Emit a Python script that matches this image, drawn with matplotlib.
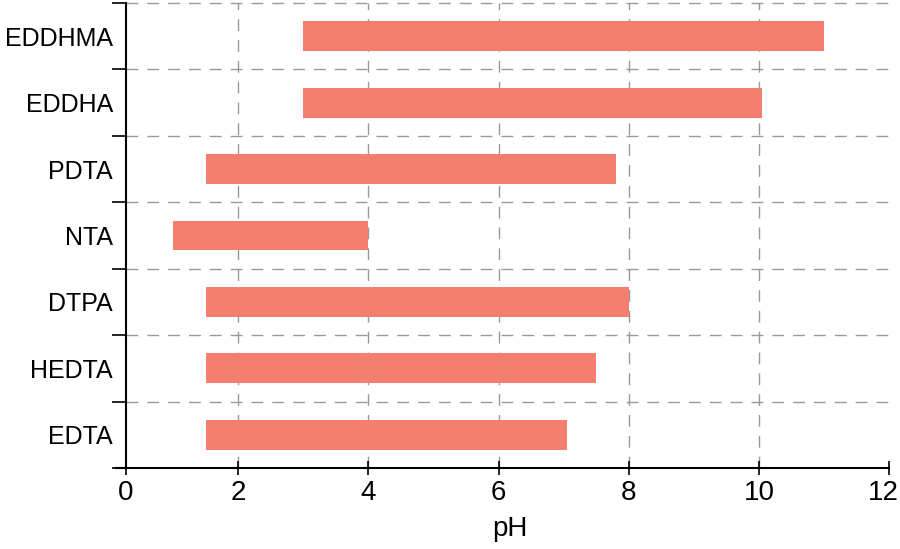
import numpy as np
import matplotlib.pyplot as plt
import matplotlib.transforms as mtransforms

plt.rcParams['font.family'] = ['Liberation Sans', 'DejaVu Sans']

# chelating agents, bottom to top, with the pH range where each is effective
agents = ["EDTA", "HEDTA", "DTPA", "NTA", "PDTA", "EDDHA", "EDDHMA"]
ph_low = [1.5, 1.5, 1.5, 1.0, 1.5, 3.0, 3.0]
ph_high = [7.05, 7.5, 8.0, 4.0, 7.8, 10.05, 11.0]
x_ticks = [2, 4, 6, 8, 10, 12]

x_left = 0.275  # the plot starts just right of 0, the "0" label sits on the spine

fig = plt.figure(figsize=(9, 5.49), dpi=100)
ax = fig.add_axes([0.14, 0.1475, 0.852, 0.847])

y = np.arange(len(agents))
widths = np.array(ph_high) - np.array(ph_low)
ax.barh(y, widths, left=ph_low, height=0.45, color="#F47F6E", zorder=3)

ax.set_xlim(x_left, 12.055)
ax.set_ylim(-0.5, len(agents) - 0.5)

# x ticks
ax.set_xticks([x_left] + x_ticks)
ax.set_xticklabels(["0"] + [str(t) for t in x_ticks], fontsize=20)
ax.tick_params(axis="x", direction="inout", length=10, width=1.2, pad=3.5)
last = ax.get_xticklabels()[-1]
last.set_transform(last.get_transform() +
                   mtransforms.ScaledTranslation(-6 / 100, 0, fig.dpi_scale_trans))

# y ticks on category boundaries, labels in between
ax.set_yticks(np.arange(len(agents) + 1) - 0.5)
ax.set_yticklabels([])
ax.set_yticks(y, minor=True)
ax.set_yticklabels(agents, minor=True, fontsize=18)
ax.tick_params(axis="y", which="major", direction="out", length=10, width=1.2)
ax.tick_params(axis="y", which="minor", length=0, pad=9.5)

ax.set_xlabel("pH", fontsize=20, labelpad=7.5)

# dashed grid
for v in x_ticks[:-1]:
    ax.axvline(v, color="#999999", lw=1, dashes=(8.5, 6.5), zorder=1)
for b in np.arange(1, len(agents) + 1) - 0.5:
    ax.axhline(b, color="#999999", lw=1, dashes=(8.5, 6.5), zorder=1, clip_on=False)

ax.spines["top"].set_visible(False)
ax.spines["right"].set_visible(False)
ax.spines["left"].set_linewidth(1.5)
ax.spines["bottom"].set_linewidth(1.5)
ax.spines["bottom"].set_bounds(x_left - 0.15, 12)

plt.savefig("out.png", dpi=100)
